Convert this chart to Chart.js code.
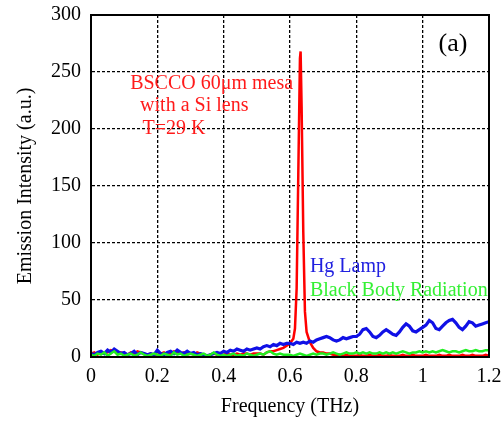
<!DOCTYPE html>
<html>
<head>
<meta charset="utf-8">
<script src="https://cdn.jsdelivr.net/npm/chart.js@4.4.1/dist/chart.umd.min.js"></script>
<style>
  html, body { margin: 0; padding: 0; background: #fff; }
  #wrap { width: 504px; height: 421px; position: relative; }
</style>
</head>
<body>
<div id="wrap"><canvas id="c"></canvas></div>
<script>
// Frequency grid (THz), 0.00 .. 1.20 in 0.01 steps
const freq = Array.from({ length: 121 }, (_, i) => i / 100);

// Hg lamp spectrum
const hgLamp = [
  3, 2, 4, 5, 3, 6, 4, 7, 5, 3,
  4, 2, 3, 5, 2, 4, 3, 2, 3, 2,
  6, 3, 2, 4, 5, 3, 6, 4, 3, 5,
  3, 4, 2, 3, 2, 1, 2, 3, 4, 3,
  5, 4, 6, 5, 7, 6, 5, 7, 6, 7,
  8, 7, 9, 10, 9, 11, 10, 12, 11, 12,
  12, 11, 13, 12, 13, 12, 14, 13, 15, 16,
  17, 18, 17, 15, 14, 15, 17, 16, 17, 18,
  18, 20, 24, 25, 22, 18, 17, 19, 22, 24,
  22, 20, 19, 22, 26, 29, 27, 23, 22, 24,
  26, 28, 32, 30, 25, 24, 27, 30, 32, 33,
  30, 26, 24, 27, 31, 30, 27, 28, 29, 30,
  31
];

// Black body radiation spectrum
const blackBody = [
  2, 1, 3, 2, 4, 1, 3, 5, 2, 3,
  1, 2, 3, 1, 2, 4, 2, 1, 2, 3,
  2, 1, 3, 2, 1, 4, 2, 3, 1, 2,
  3, 2, 1, 2, 3, 1, 2, 4, 2, 1,
  2, 1, 2, 3, 1, 2, 1, 3, 2, 1,
  2, 3, 2, 4, 5, 3, 2, 3, 2, 2,
  2, 1, 2, 3, 2, 1, 2, 3, 2, 3,
  3, 2, 3, 4, 3, 2, 3, 4, 3, 3,
  4, 3, 4, 3, 4, 3, 3, 4, 3, 4,
  3, 4, 3, 4, 5, 4, 3, 4, 4, 5,
  4, 5, 4, 5, 4, 5, 6, 5, 4, 5,
  5, 4, 5, 6, 5, 5, 6, 5, 5, 6,
  6
];

// BSCCO mesa emission on the common grid
const bscco = [
  3, 4, 2, 5, 3, 4, 6, 5, 3, 4,
  3, 2, 4, 3, 5, 4, 3, 2, 3, 2,
  2, 3, 4, 2, 3, 5, 4, 3, 4, 2,
  3, 2, 4, 3, 2, 1, 2, 3, 2, 2,
  2, 3, 2, 2, 3, 2, 3, 3, 2, 3,
  3, 3, 2, 4, 5, 5, 6, 7, 8, 10,
  12, 16, 60, 262, 110, 22, 13, 8, 5, 4,
  4, 3, 3, 2, 2, 2, 1, 2, 1, 1,
  1, 2, 1, 1, 2, 1, 1, 2, 1, 1,
  2, 1, 1, 1, 2, 1, 1, 2, 1, 1,
  1, 2, 1, 1, 1, 2, 1, 1, 2, 1,
  1, 1, 2, 1, 1, 2, 1, 1, 1, 2,
  1
];

// Extra samples resolving the emission line around 0.63 THz
const peakFreq = [0.615, 0.625, 0.632, 0.635, 0.645];
const peakVal  = [25, 160, 268, 220, 40];

// Axis ticks
const xTicks = [0, 0.2, 0.4, 0.6, 0.8, 1, 1.2];
const yTicks = [0, 50, 100, 150, 200, 250, 300];

const toPoints = (xs, ys) => xs.map((x, i) => ({ x, y: ys[i] }));
const bsccoPoints = toPoints(freq, bscco)
  .concat(toPoints(peakFreq, peakVal))
  .sort((a, b) => a.x - b.x);

const SERIF = "'Liberation Serif', 'Times New Roman', serif";

// Text labels placed in data coordinates
const notes = [
  { text: 'BSCCO 60\u03bcm mesa', x: 0.118, y: 240, color: '#ff1a1a', size: 20 },
  { text: 'with a Si lens',        x: 0.148, y: 220, color: '#ff1a1a', size: 20 },
  { text: 'T=29 K',                x: 0.155, y: 200, color: '#ff1a1a', size: 20 },
  { text: 'Hg Lamp',               x: 0.66,  y: 79,  color: '#2020e0', size: 20 },
  { text: 'Black Body Radiation',  x: 0.66,  y: 58,  color: '#33f033', size: 20 },
  { text: '(a)',                   x: 1.048, y: 274, color: '#000000', size: 26 }
];

const framePlugin = {
  id: 'frame',
  afterDatasetsDraw(chart) {
    const { ctx, chartArea: a, scales } = chart;
    ctx.save();
    ctx.textBaseline = 'middle';
    ctx.textAlign = 'left';
    notes.forEach(n => {
      ctx.font = n.size + 'px ' + SERIF;
      ctx.fillStyle = n.color;
      ctx.fillText(n.text, scales.x.getPixelForValue(n.x), scales.y.getPixelForValue(n.y));
    });
    ctx.strokeStyle = '#000';
    ctx.lineWidth = 2;
    ctx.strokeRect(a.left, a.top, a.right - a.left, a.bottom - a.top);
    ctx.restore();
  }
};

new Chart(document.getElementById('c'), {
  type: 'line',
  data: {
    datasets: [
      { label: 'Black Body Radiation', data: toPoints(freq, blackBody), borderColor: '#22ee22', borderWidth: 2.5 },
      { label: 'Hg Lamp', data: toPoints(freq, hgLamp), borderColor: '#1010e6', borderWidth: 3.2 },
      { label: 'BSCCO 60\u03bcm mesa', data: bsccoPoints, borderColor: '#ff0000', borderWidth: 2.5 }
    ]
  },
  options: {
    responsive: true,
    maintainAspectRatio: false,
    animation: false,
    elements: { point: { radius: 0 }, line: { tension: 0 } },
    layout: { padding: { left: 0, right: 15, top: 15, bottom: 0 } },
    plugins: { legend: { display: false }, tooltip: { enabled: false } },
    scales: {
      x: {
        type: 'linear',
        min: 0, max: 1.2,
        afterBuildTicks(s) { s.ticks = xTicks.map(v => ({ value: v })); },
        afterFit(s) { s.height = 64; s.paddingLeft = 0; s.paddingRight = 0; },
        ticks: {
          color: '#000', padding: 8,
          font: { family: SERIF, size: 20 },
          callback: v => String(Math.round(v * 10) / 10)
        },
        grid: { color: '#000', lineWidth: 1.3, drawTicks: false },
        border: { display: true, color: '#000', width: 2, dash: [3, 2] },
        title: {
          display: true, text: 'Frequency (THz)', color: '#000',
          font: { family: SERIF, size: 20 }, padding: { top: 0, bottom: 2 }
        }
      },
      y: {
        type: 'linear',
        min: 0, max: 300,
        afterBuildTicks(s) { s.ticks = yTicks.map(v => ({ value: v })); },
        afterFit(s) { s.width = 91; s.paddingTop = 0; s.paddingBottom = 0; },
        ticks: {
          color: '#000', padding: 10,
          font: { family: SERIF, size: 20 }
        },
        grid: { color: '#000', lineWidth: 1.3, drawTicks: false },
        border: { display: true, color: '#000', width: 2, dash: [3, 2] },
        title: {
          display: true, text: 'Emission Intensity (a.u.)', color: '#000',
          font: { family: SERIF, size: 20 }, padding: { top: 14, bottom: 0 }
        }
      }
    }
  },
  plugins: [framePlugin]
});
</script>
</body>
</html>
